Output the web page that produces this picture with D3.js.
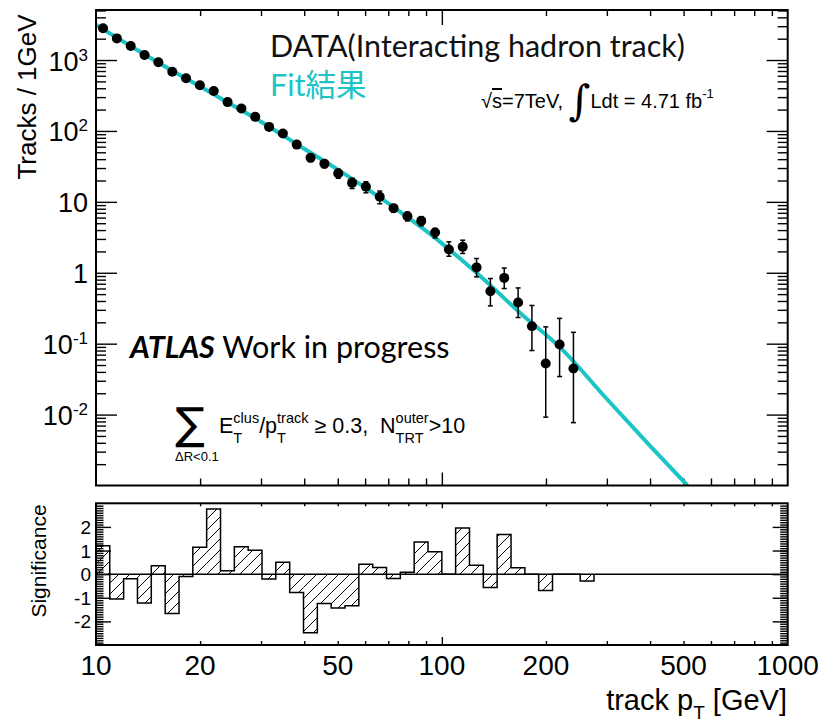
<!DOCTYPE html>
<html>
<head lang="en">
<meta charset="UTF-8">
<title>Interacting hadron track pT</title>
<script src="https://cdnjs.cloudflare.com/ajax/libs/d3/7.8.5/d3.min.js"></script>
<style>
body { margin: 0; background: #fff; }
text { font-family: "Liberation Sans", Arial, sans-serif; }
</style>
</head>
<body>
<div id="vis"></div>
<script>

// histogram binning in track pT [GeV] (25 bins per decade)
var binEdges = [10, 10.96, 12.02, 13.18, 14.45, 15.85, 17.38, 19.05, 20.89, 22.91,
  25.12, 27.54, 30.20, 33.11, 36.31, 39.81, 43.65, 47.86, 52.48, 57.54,
  63.10, 69.18, 75.86, 83.18, 91.20, 100, 109.6, 120.2, 131.8, 144.5,
  158.5, 173.8, 190.5, 208.9, 229.1, 251.2, 275.4];

// data points, tracks / 1GeV, one per filled bin
var tracks = [2800, 2020, 1580, 1177, 929, 684, 552, 440, 365, 255,
  207, 158, 114, 91.8, 64.2, 41.8, 34.6, 25.2, 18.5, 16.3,
  11.8, 8.15, 6.28, 5.39, 3.70, 2.13, 2.32, 1.19, 0.549, 0.847,
  0.381, 0.176, 0.0526, 0.0973, 0.0446];
var errUp = [55, 46, 40, 34, 30, 26, 23, 20, 18, 15,
  13, 11, 9, 8, 6.5, 5, 4.4, 3.7, 3.1, 2.9,
  2.4, 1.0, 0.9, 0.8, 0.52, 0.60, 0.56, 0.40, 0.28, 0.32,
  0.23, 0.17, 0.12, 0.13, 0.10];
var errDn = [55, 46, 40, 34, 30, 26, 23, 20, 18, 15,
  13, 11, 9, 8, 6.5, 5, 4.4, 3.7, 3.1, 2.9,
  2.4, 1.0, 0.9, 0.8, 0.60, 0.42, 0.45, 0.315, 0.208, 0.247,
  0.147, 0.096, 0.0434, 0.0629, 0.0369];

// fit result
var fitPt  = [10, 15, 20, 30, 40, 50, 70, 100, 130, 170, 220, 300, 400, 513];
var fitVal = [3130, 946, 422, 135, 56, 28.5, 9.5, 2.6, 0.87, 0.26, 0.088, 0.0166, 0.00363, 0.001];

// (data - fit) / error per bin
var significance = [1.2, -1.05, -0.2, -1.22, 0.36, -1.67, -0.1, 1.14, 2.76, 0.14,
  1.16, 1.01, -0.21, 0.5, -0.78, -2.48, -1.24, -1.43, -1.34, 0.42,
  0.28, -0.18, 0.08, 1.36, 0.95, 0, 1.95, 0.38, -0.56, 1.68,
  0.27, 0, -0.69, 0, 0, -0.29];

var xLabels = [10, 20, 50, 100, 200, 500, 1000];
var yLabelExp = [3, 2, 1, 0, -1, -2];
var sigLabels = [2, 1, 0, -1, -2];

var cyan = "#1cc4c6";

var svg = d3.select("#vis").append("svg")
  .attr("width", 825)
  .attr("height", 724);

var left = 96, right = 787.7;
var top1 = 10, bot1 = 485.5;   // main pad
var top2 = 503.3, bot2 = 645;  // significance pad

var x = d3.scaleLog().domain([10, 1000]).range([left, right]);
var y = d3.scaleLog().domain([1e-3, 5076]).range([bot1, top1]);
var ys = d3.scaleLinear().domain([-3, 3]).range([bot2, top2]);

// ---- tick helper
function ticks(axis, tx, ty, values, size) {
  svg.append("g")
    .attr("transform", "translate(" + tx + "," + ty + ")")
    .call(axis.tickValues(values).tickSize(size).tickFormat(""))
    .call(function(g) { g.select(".domain").remove(); })
    .selectAll("line").attr("stroke", "#000").attr("stroke-width", 1.4);
}

var yDecades = [1e-2, 1e-1, 1, 10, 100, 1000];
var yMinors = [];
[-3, -2, -1, 0, 1, 2, 3].forEach(function(e) {
  for (var k = 2; k <= 9; k++) {
    var v = k * Math.pow(10, e);
    if (v < 5076) yMinors.push(v);
  }
});
var xDecades = [100];
var xMinors = [20, 30, 40, 50, 60, 70, 80, 90, 200, 300, 400, 500, 600, 700, 800, 900];

ticks(d3.axisLeft(y), left, 0, yDecades, -21);
ticks(d3.axisLeft(y), left, 0, yMinors, -10);
ticks(d3.axisRight(y), right, 0, yDecades, -21);
ticks(d3.axisRight(y), right, 0, yMinors, -10);
ticks(d3.axisTop(x), 0, top1, xDecades, -15);
ticks(d3.axisTop(x), 0, top1, xMinors, -6);
ticks(d3.axisBottom(x), 0, bot1, xDecades, -13);
ticks(d3.axisBottom(x), 0, bot1, xMinors, -7);

var sMajors = [-2, -1, 0, 1, 2];
var sMinors = d3.range(-29, 30).map(function(i) { return i / 10; });
ticks(d3.axisLeft(ys), left, 0, sMajors, -15);
ticks(d3.axisLeft(ys), left, 0, sMinors, -7.5);
ticks(d3.axisRight(ys), right, 0, sMajors, -15);
ticks(d3.axisRight(ys), right, 0, sMinors, -7.5);
ticks(d3.axisTop(x), 0, top2, xDecades, -5);
ticks(d3.axisTop(x), 0, top2, xMinors, -3);
ticks(d3.axisBottom(x), 0, bot2, xDecades, -8);
ticks(d3.axisBottom(x), 0, bot2, xMinors, -4);

// ---- rich text helper (sub / superscripts stacked like ROOT latex)
function rich(parent, px, py, parts, anchor) {
  var g = parent.append("g");
  var cx = 0;
  parts.forEach(function(p) {
    var items = p.stack || [p];
    var w = 0;
    items.forEach(function(q) {
      var t = g.append("text")
        .attr("x", cx + (q.dx || 0))
        .attr("y", q.dy || 0)
        .attr("font-size", q.size)
        .attr("fill", q.fill || "#000")
        .style("white-space", "pre")
        .text(q.t);
      if (q.family) t.style("font-family", q.family);
      if (q.bold) t.style("font-weight", "bold");
      if (q.it) t.style("font-style", "italic");
      if (q.deco) t.style("text-decoration", q.deco);
      w = Math.max(w, t.node().getComputedTextLength() + (q.dx || 0));
    });
    cx += w + (p.gap || 0);
  });
  var x0 = px;
  if (anchor == "end") x0 = px - cx;
  if (anchor == "middle") x0 = px - cx / 2;
  g.attr("transform", "translate(" + x0 + "," + py + ")");
  return g;
}

// ---- significance pad
var defs = svg.append("defs");
var pat = defs.append("pattern")
  .attr("id", "hatch")
  .attr("patternUnits", "userSpaceOnUse")
  .attr("width", 11).attr("height", 11);
pat.append("path")
  .attr("d", "M-2,2 L2,-2 M0,11 L11,0 M9,13 L13,9")
  .attr("stroke", "#000").attr("stroke-width", 1);

var bins = significance.map(function(s, i) {
  return {lo: binEdges[i], hi: binEdges[i + 1], s: s};
});

svg.append("g").selectAll("rect")
  .data(bins)
  .enter().append("rect")
  .attr("x", function(d) { return x(d.lo); })
  .attr("width", function(d) { return x(d.hi) - x(d.lo); })
  .attr("y", function(d) { return Math.min(ys(d.s), ys(0)); })
  .attr("height", function(d) { return Math.abs(ys(d.s) - ys(0)); })
  .attr("fill", "url(#hatch)");

svg.append("line")
  .attr("x1", left).attr("x2", right)
  .attr("y1", ys(0)).attr("y2", ys(0))
  .attr("stroke", "#000").attr("stroke-width", 1.5);

var stepPts = bins.map(function(d) { return [d.lo, d.s]; });
stepPts.push([binEdges[binEdges.length - 1], 0]);
svg.append("path")
  .attr("d", d3.line()
    .x(function(d) { return x(d[0]); })
    .y(function(d) { return ys(d[1]); })
    .curve(d3.curveStepAfter)(stepPts))
  .attr("fill", "none")
  .attr("stroke", "#000")
  .attr("stroke-width", 1.5);

// ---- main pad: fit curve
defs.append("clipPath").attr("id", "clipMain")
  .append("rect").attr("x", left).attr("y", top1)
  .attr("width", right - left).attr("height", bot1 - top1);

var fitPts = fitPt.map(function(p, i) { return [p, fitVal[i]]; });
svg.append("path")
  .attr("clip-path", "url(#clipMain)")
  .attr("d", d3.line()
    .x(function(d) { return x(d[0]); })
    .y(function(d) { return y(d[1]); })
    .curve(d3.curveMonotoneX)(fitPts))
  .attr("fill", "none")
  .attr("stroke", cyan)
  .attr("stroke-width", 4);

// ---- data points
var pts = tracks.map(function(v, i) {
  return {pt: (binEdges[i] + binEdges[i + 1]) / 2, v: v, hi: v + errUp[i], lo: v - errDn[i]};
});

var eb = svg.append("g").attr("stroke", "#000").attr("stroke-width", 1.5);
pts.forEach(function(d) {
  var cx = x(d.pt);
  eb.append("line").attr("x1", cx).attr("x2", cx).attr("y1", y(d.lo)).attr("y2", y(d.hi));
  eb.append("line").attr("x1", cx - 2.5).attr("x2", cx + 2.5).attr("y1", y(d.lo)).attr("y2", y(d.lo));
  eb.append("line").attr("x1", cx - 2.5).attr("x2", cx + 2.5).attr("y1", y(d.hi)).attr("y2", y(d.hi));
});

svg.append("g").selectAll("circle")
  .data(pts)
  .enter().append("circle")
  .attr("cx", function(d) { return x(d.pt); })
  .attr("cy", function(d) { return y(d.v); })
  .attr("r", 5)
  .attr("fill", "#000");

// ---- frames
[[top1, bot1], [top2, bot2]].forEach(function(f) {
  svg.append("rect")
    .attr("x", left).attr("y", f[0])
    .attr("width", right - left).attr("height", f[1] - f[0])
    .attr("fill", "none").attr("stroke", "#000").attr("stroke-width", 2);
});

// ---- tick labels
yLabelExp.forEach(function(e) {
  var ty = y(Math.pow(10, e)) + 10.5;
  var parts;
  if (e == 0) parts = [{t: "1", size: 27}];
  else if (e == 1) parts = [{t: "10", size: 27}];
  else parts = [{t: "10", size: 27}, {t: String(e), size: 17, dy: -10}];
  rich(svg, 88, ty, parts, "end");
});

sigLabels.forEach(function(s) {
  svg.append("text")
    .attr("x", 91).attr("y", ys(s) + 7)
    .attr("text-anchor", "end")
    .attr("font-size", 19)
    .text(s);
});

xLabels.forEach(function(v) {
  svg.append("text")
    .attr("x", x(v)).attr("y", 675)
    .attr("text-anchor", "middle")
    .attr("font-size", 28)
    .text(v);
});

// ---- axis titles
svg.append("text")
  .attr("transform", "translate(36," + 97 + ") rotate(-90)")
  .attr("text-anchor", "middle")
  .attr("font-size", 26)
  .text("Tracks / 1GeV");

svg.append("text")
  .attr("transform", "translate(46," + 561 + ") rotate(-90)")
  .attr("text-anchor", "middle")
  .attr("font-size", 21)
  .text("Significance");

rich(svg, 787, 710, [
  {t: "track p", size: 29},
  {t: "T", size: 19, dy: 9},
  {t: " [GeV]", size: 29}
], "end");

// ---- legend and labels
var cal = "Lato, 'Noto Sans CJK JP', sans-serif";
svg.append("text")
  .attr("x", 270).attr("y", 57)
  .style("font-family", cal)
  .attr("font-size", 30.5)
  .attr("fill", "#111")
  .text("DATA(Interacting hadron track)");

svg.append("text")
  .attr("x", 270).attr("y", 96)
  .style("font-family", cal)
  .attr("font-size", 30.5)
  .attr("fill", cyan)
  .text("Fit結果");

rich(svg, 130, 358, [
  {t: "ATLAS", size: 30.5, family: cal, bold: true, it: true},
  {t: " Work in progress", size: 30.5, family: cal}
]);

rich(svg, 481, 108, [
  {t: "\u221A", size: 20},
  {t: "s", size: 20, deco: "overline"},
  {t: "=7TeV, ", size: 20},
  {t: "\u222B", size: 42, dy: 7, family: "'DejaVu Serif', serif"},
  {t: "Ldt = 4.71 fb", size: 20},
  {t: "-1", size: 13, dy: -10}
]);

rich(svg, 175, 439, [{t: "\u2211", size: 44, family: "'DejaVu Sans', sans-serif"}]);
svg.append("text")
  .attr("x", 175).attr("y", 461)
  .attr("font-size", 13)
  .text("\u0394R<0.1");

rich(svg, 219, 433, [
  {t: "E", size: 21.5},
  {stack: [{t: "T", size: 14.5, dy: 10}, {t: "clus", size: 14.5, dy: -10}]},
  {t: "/p", size: 21.5},
  {stack: [{t: "T", size: 14.5, dy: 10}, {t: "track", size: 14.5, dy: -10}]},
  {t: " \u2265 0.3,  N", size: 21.5},
  {stack: [{t: "TRT", size: 14.5, dy: 10}, {t: "outer", size: 14.5, dy: -10}]},
  {t: ">10", size: 21.5}
]);

</script>
</body>
</html>
